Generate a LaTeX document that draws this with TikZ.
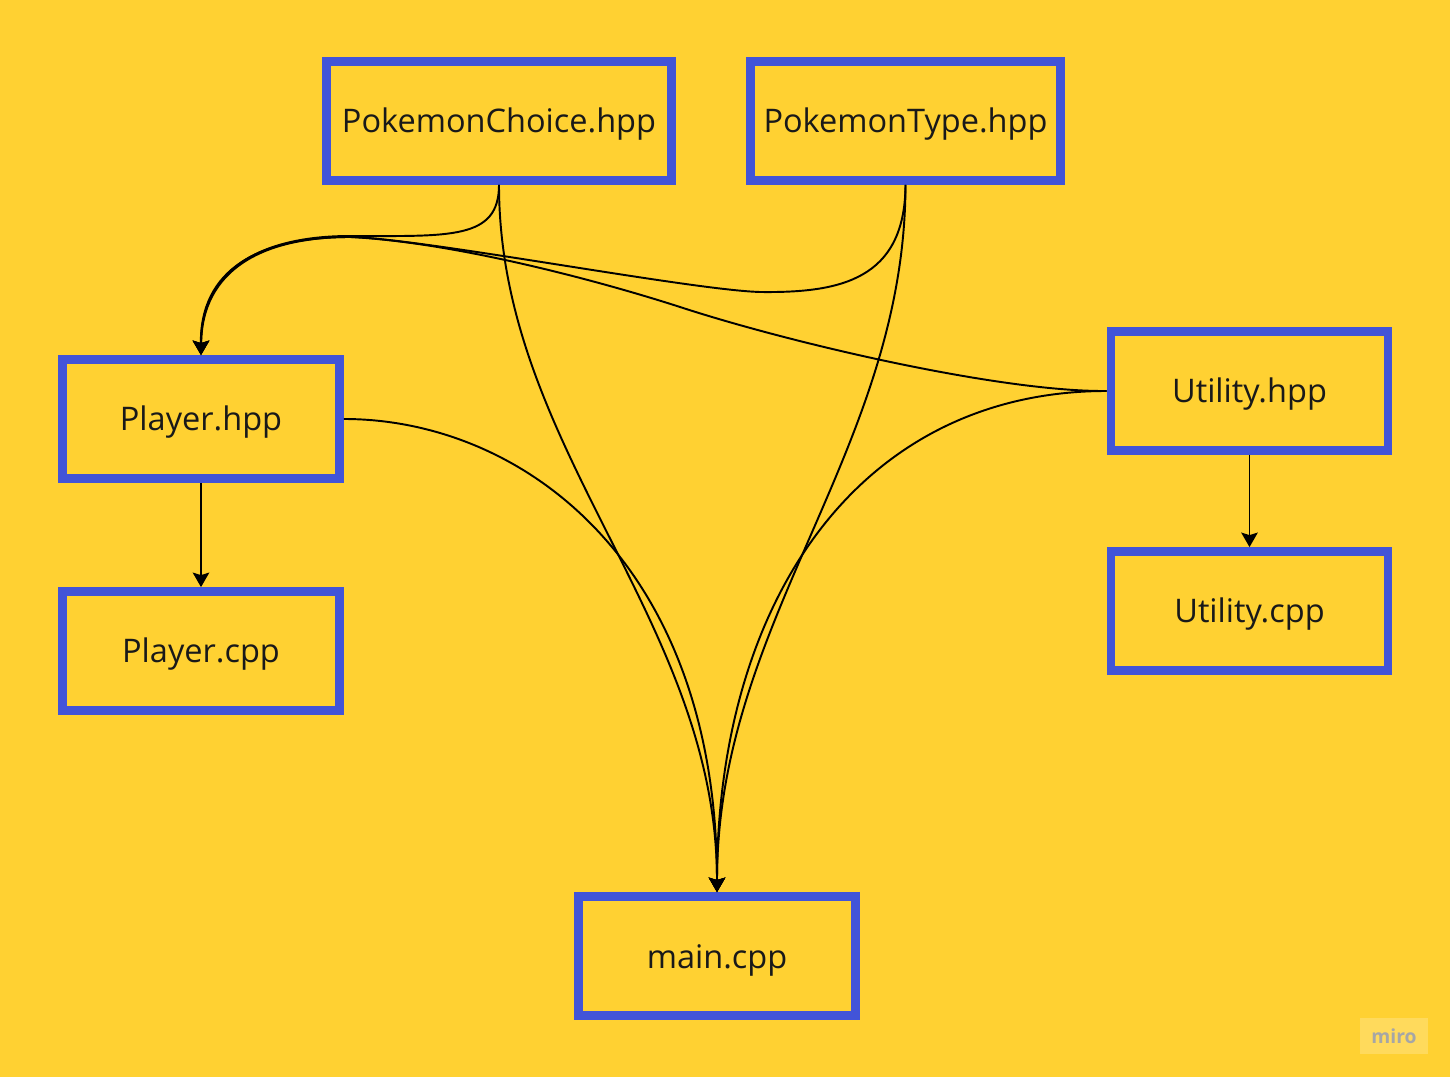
\documentclass[tikz,border=0pt]{standalone}
\usepackage{fontspec}
\setmainfont{Open Sans}
\usetikzlibrary{arrows.meta}
\definecolor{miroyellow}{RGB}{255,209,50}
\definecolor{miroblue}{RGB}{66,84,216}
\definecolor{wmark}{RGB}{255,218,92}

\begin{document}
\begin{tikzpicture}[x=0.02cm,y=-0.02cm,>={Stealth[length=0.29cm,width=0.33cm,inset=0.05cm]},
                    line width=1.1pt]
\tikzstyle{every node}=[font=\fontsize{18.5}{22}\selectfont,text=black!90]
\tikzstyle{file}=[draw=miroblue,line width=5pt,minimum width=5.54cm,minimum height=2.38cm,inner sep=0pt,
                  text height=0.64cm,text depth=0.16cm]
\fill[miroyellow] (0,0) rectangle (1450,1077);
\useasboundingbox (0,0) rectangle (1450,1077);

\node [file,minimum width=6.9cm] (choice) at (499,121) {PokemonChoice.hpp};
\node [file,minimum width=6.2cm] (type) at (905.5,121) {PokemonType.hpp};
\node [file] (playerh) at (201,419) {Player.hpp};
\node [file] (playerc) at (201,651) {Player.cpp};
\node [file] (utilh) at (1249.5,391) {Utility.hpp};
\node [file] (utilc) at (1249.5,611) {Utility.cpp};
\node [file] (main) at (717,956) {main.cpp};

\path[->] (playerh) edge (playerc)
          (utilh) edge (utilc);

% into Player.hpp
\draw[->] (choice.south) .. controls (499,240) and (450,236) .. (350,236)
          .. controls (260,236) and (201,270) .. (playerh.north);
\draw[->] (type.south) .. controls (905,280) and (840,293) .. (760,292)
          .. controls (690,290) and (420,238) .. (350,237)
          .. controls (262,237) and (202,270) .. (playerh.north);
\draw[->] (utilh.west) .. controls (1000,392) and (790,343) .. (680,307)
          .. controls (590,278) and (450,242) .. (350,237)
          .. controls (258,237) and (200,270) .. (playerh.north);

% into main.cpp
\draw[->] (choice.south) .. controls (499,450) and (717,620) .. (main.north);
\draw[->] (type.south) .. controls (905,450) and (717,620) .. (main.north);
\draw[->] (playerh.east) .. controls (520,419) and (717,560) .. (main.north);
\draw[->] (utilh.west) .. controls (860,391) and (717,600) .. (main.north);

\node [fill=wmark,text=black!35,font=\fontsize{11}{13}\selectfont\bfseries,minimum width=1.36cm,minimum height=0.72cm,inner sep=0pt] (miro) at (1394,1036) {miro};
\end{tikzpicture}
\end{document}
